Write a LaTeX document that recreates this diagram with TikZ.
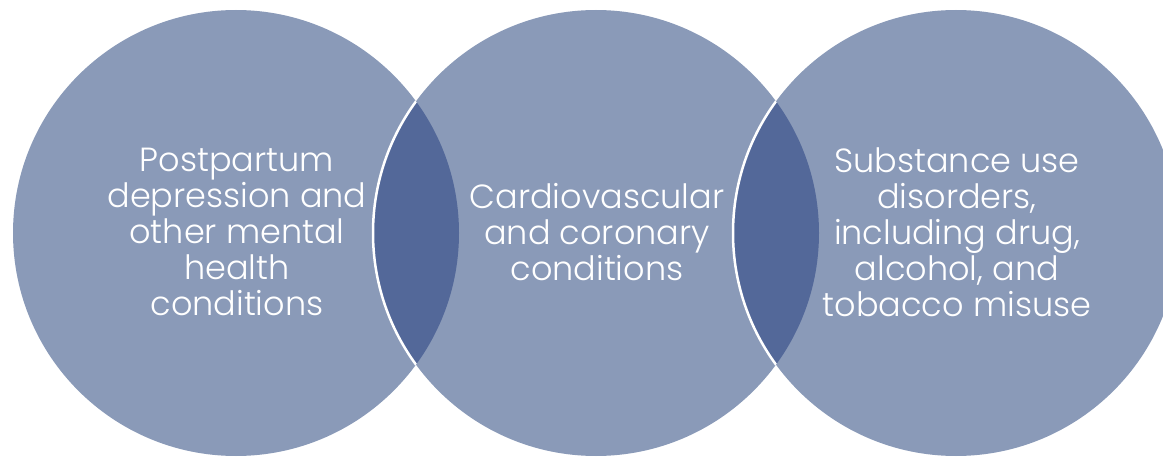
\documentclass[tikz,border=0pt]{standalone}
\usepackage{fontspec}
\setmainfont{Poppins}[UprightFont={* Light}]
\definecolor{single}{HTML}{8A9AB8}
\definecolor{lens}{HTML}{536899}
\begin{document}
\begin{tikzpicture}[x=1pt,y=1pt,
  label/.style={text=white,align=center,font=\fontsize{33.5}{36}\selectfont,inner sep=0pt},
  ring/.style={circle,minimum size=446pt,inner sep=0pt,fill=single}]
\useasboundingbox (0,0) rectangle (1163,456);
\clip (0,0) rectangle (1163,456);
\coordinate (cL) at (236,223);
\coordinate (cM) at (596,223);
\coordinate (cR) at (956,223);
\node[ring] (L) at (cL) {};
\node[ring] (M) at (cM) {};
\node[ring] (R) at (cR) {};
\begin{scope}
  \clip (cL) circle (223);
  \fill[lens] (cM) circle (223);
  \draw[white,line width=2.5pt] (cM) circle (223);
\end{scope}
\begin{scope}
  \clip (cM) circle (223);
  \fill[lens] (cR) circle (223);
  \draw[white,line width=2.5pt] (cR) circle (223);
\end{scope}
\node[label] (tL) at (237,224) {Postpartum\\depression and\\other mental\\health\\conditions};
\node[label] (tM) at (597,224) {Cardiovascular\\and coronary\\conditions};
\node[label] (tR) at (957,224) {Substance use\\disorders,\\including drug,\\alcohol, and\\tobacco misuse};
\end{tikzpicture}
\end{document}
